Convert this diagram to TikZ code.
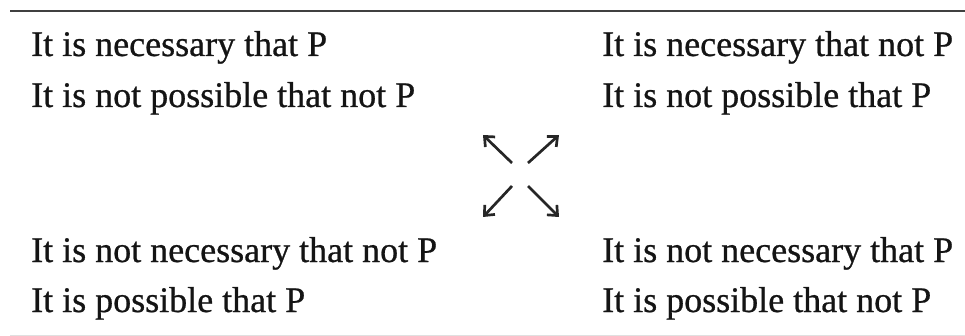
\documentclass[tikz,border=0pt]{standalone}
\usepackage{fontspec}
\setmainfont[FakeBold=0.7]{Liberation Serif}
\usetikzlibrary{arrows.meta}
\begin{document}
\begin{tikzpicture}[x=1pt,y=-1pt,
  txt/.style={anchor=base west,inner sep=0pt,font=\fontsize{36}{43}\selectfont,text=black!92},
  rule/.style={line width=2.6pt,draw=black!75},
  arr/.style={line width=2.7pt,draw=black!85,-{Straight Barb[length=8pt,width=14pt,line width=2.7pt]}}]
\useasboundingbox (0,0) rectangle (965,336);
\draw[rule] (10,11) -- (965,11);
\draw[line width=1pt,draw=black!12] (10,335) -- (965,335);
\node[txt] (a1) at (31,56) {It is necessary that P};
\node[txt] (a2) at (31,107) {It is not possible that not P};
\node[txt] (b1) at (602,56) {It is necessary that not P};
\node[txt] (b2) at (602,107) {It is not possible that P};
\node[txt] (c1) at (31,262) {It is not necessary that not P};
\node[txt] (c2) at (31,312) {It is possible that P};
\node[txt] (d1) at (602,262) {It is not necessary that P};
\node[txt] (d2) at (602,312) {It is possible that not P};
\coordinate (ulT) at (512,163); \coordinate (ulH) at (483,135);
\coordinate (urT) at (528,163); \coordinate (urH) at (559,135);
\coordinate (llT) at (512,186); \coordinate (llH) at (483,217);
\coordinate (lrT) at (528,186); \coordinate (lrH) at (559,217);
\draw[arr] (ulT) -- (ulH);
\draw[arr] (urT) -- (urH);
\draw[arr] (llT) -- (llH);
\draw[arr] (lrT) -- (lrH);
\end{tikzpicture}
\end{document}
